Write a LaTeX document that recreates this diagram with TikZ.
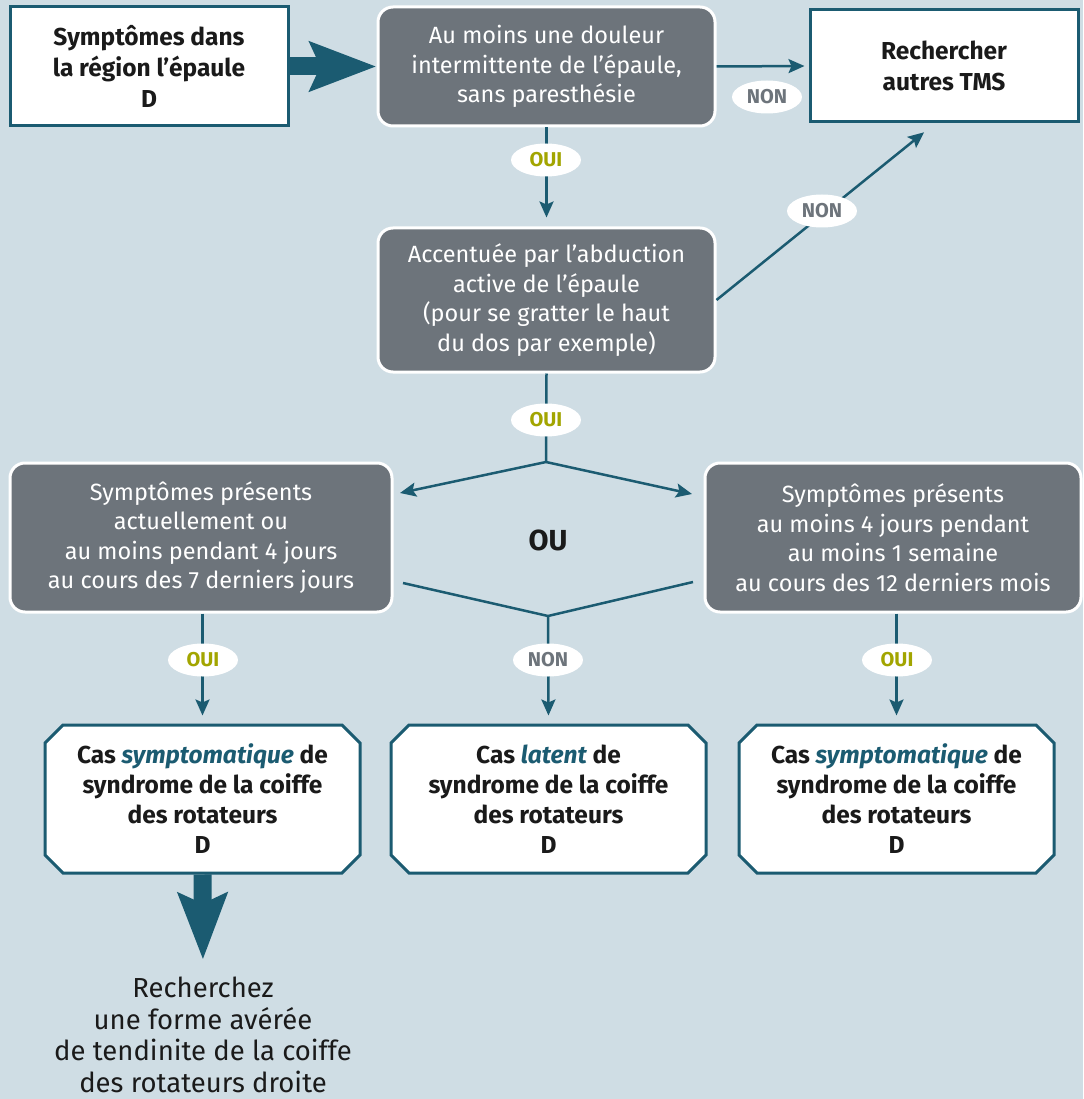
\documentclass[tikz,border=0pt]{standalone}
\usepackage{fontspec}
\setmainfont{Fira Sans}
\usepackage{xcolor}
\usepackage{tikz}
\usetikzlibrary{arrows.meta, positioning, calc, shapes.geometric, shapes.misc}
\definecolor{kbg}{HTML}{CFDDE4}
\definecolor{kteal}{HTML}{1B5B71}
\definecolor{kgrey}{HTML}{6D747B}
\definecolor{kolive}{HTML}{A2A500}
\definecolor{kink}{HTML}{1A1A1A}

\begin{document}
\begin{tikzpicture}[x=1pt, y=-1pt,
  greybox/.style={rectangle, rounded corners=15pt, fill=kgrey, draw=white, line width=3pt,
    text=white, align=center, inner sep=0pt, font=\fontsize{23.5}{29.5}\selectfont},
  whitebox/.style={rectangle, fill=white, draw=kteal, line width=3pt, text=kink,
    align=center, inner sep=0pt, font=\fontsize{24.5}{31}\selectfont\bfseries},
  casbox/.style={chamfered rectangle, chamfered rectangle xsep=9pt, chamfered rectangle ysep=9pt,
    fill=white, draw=kteal, line width=3pt, text=kink, align=center, inner sep=0pt,
    minimum width=315pt, minimum height=148pt, font=\fontsize{24.5}{30}\selectfont\bfseries},
  lbl/.style={ellipse, fill=white, inner sep=0pt, minimum width=70pt, minimum height=33pt,
    font=\fontsize{20}{20}\selectfont\bfseries},
  ouilbl/.style={lbl, text=kolive},
  nonlbl/.style={lbl, text=kgrey},
  link/.style={draw=kteal, line width=2.5pt, -{Stealth[length=16pt, width=14pt, inset=3pt]}},
  plainlink/.style={draw=kteal, line width=2.5pt},
  bigarrow/.style={draw=kteal, line width=18pt, -{Stealth[length=66pt, width=48pt, inset=10pt]}}
]
\fill[kbg] (0,0) rectangle (1083,1099);
\useasboundingbox (0,0) rectangle (1083,1099);

\node[whitebox, minimum width=278pt, minimum height=119pt] (sympt) at (149,66.5)
  {Symptômes dans\\la région l'épaule\\D};
\node[greybox, minimum width=337pt, minimum height=119pt] (douleur) at (546.5,66.5)
  {Au moins une douleur\\intermittente de l'épaule,\\sans paresthésie};
\node[whitebox, minimum width=268pt, minimum height=112pt] (autres) at (944,66)
  {Rechercher\\autres TMS};
\node[greybox, minimum width=337pt, minimum height=144pt] (abduct) at (546.5,300)
  {Accentuée par l'abduction\\active de l'épaule\\(pour se gratter le haut\\du dos par exemple)};
\node[greybox, minimum width=382pt, minimum height=149pt] (actuel) at (201,537.5)
  {Symptômes présents\\actuellement ou\\au moins pendant 4 jours\\au cours des 7 derniers jours};
\node[greybox, minimum width=376pt, minimum height=149pt] (annee) at (893,537.5)
  {Symptômes présents\\au moins 4 jours pendant\\au moins 1 semaine\\au cours des 12 derniers mois};
\node[font=\fontsize{29}{29}\selectfont\bfseries, text=kink] (ou) at (548,540) {OU};
\node[casbox] (casL) at (202.5,799)
  {Cas \textcolor{kteal}{\itshape symptomatique} de\\syndrome de la coiffe\\des rotateurs\\D};
\node[casbox] (casM) at (548.5,799)
  {Cas \textcolor{kteal}{\itshape latent} de\\syndrome de la coiffe\\des rotateurs\\D};
\node[casbox] (casR) at (896.5,799)
  {Cas \textcolor{kteal}{\itshape symptomatique} de\\syndrome de la coiffe\\des rotateurs\\D};
\node[font=\fontsize{27.5}{31.5}\selectfont, text=kink, align=center] (tendin) at (203,1035)
  {Recherchez\\une forme avérée\\de tendinite de la coiffe\\des rotateurs droite};

\coordinate (fork) at (546,462);
\coordinate (forkL) at (400,493);
\coordinate (forkR) at (692,494);
\coordinate (joinL) at (403,583);
\coordinate (join) at (548,616);
\coordinate (joinR) at (693,582);

\draw[bigarrow] (sympt.east) -- (douleur.west);
\draw[link, shorten >=4pt] (douleur.east) -- (autres.west);
\draw[link, shorten >=9pt] (douleur.south) -- (abduct.north);
\draw[link, shorten >=14pt] (abduct.east) -- ($(autres.south)+(-9,0)$);
\draw[plainlink] (abduct.south) -- (fork);
\draw[link] (fork) -- (forkL);
\draw[link] (fork) -- (forkR);
\draw[plainlink] (joinL) -- (join) -- (joinR);
\draw[link, shorten >=8pt] (join) -- (casM.north);
\draw[link, shorten >=8pt] (casL.north |- actuel.south) -- (casL.north);
\draw[link, shorten >=8pt] (casR.north |- annee.south) -- (casR.north);
\draw[bigarrow, shorten >=14pt] (casL.south) -- (tendin.north);

\node[nonlbl] (non1) at (767,97) {NON};
\node[ouilbl] (oui1) at (546,160) {OUI};
\node[nonlbl] (non2) at (822,211) {NON};
\node[ouilbl] (oui2) at (546,420) {OUI};
\node[ouilbl] (oui3) at (203,660) {OUI};
\node[nonlbl] (non3) at (548,660) {NON};
\node[ouilbl] (oui4) at (897,660) {OUI};
\end{tikzpicture}
\end{document}
